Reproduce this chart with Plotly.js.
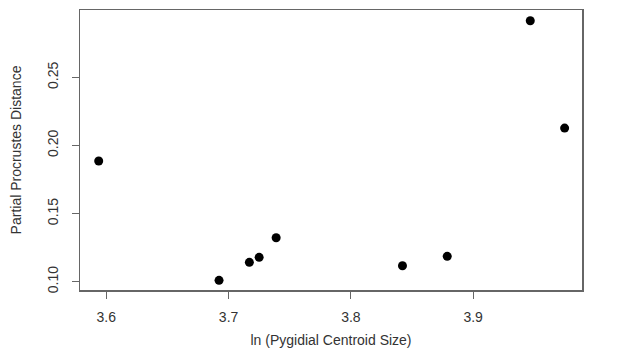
<!DOCTYPE html>
<html>
<head>
<meta charset="utf-8">
<script src="https://cdn.plot.ly/plotly-3.0.1.min.js"></script>
<style>html,body{margin:0;padding:0;background:#fff;}#chart{width:634px;height:364px;}</style>
</head>
<body>
<div id="chart"></div>
<script>
const lnCentroidSize = [3.5938, 3.6922, 3.7170, 3.7250, 3.7389, 3.8422, 3.8788, 3.9467, 3.9748];
const procrustesDist = [0.1886, 0.1010, 0.1142, 0.1179, 0.1323, 0.1117, 0.1186, 0.2916, 0.2128];
const xTicks = [3.6, 3.7, 3.8, 3.9];
const yTicks = [0.10, 0.15, 0.20, 0.25];
const xTickText = ['3.6', '3.7', '3.8', '3.9'];
const yTickText = ['0.10', '0.15', '0.20', '0.25'];

const font = {family: 'Liberation Sans, Arial, sans-serif', size: 14, color: '#333'};
const trace = {
  x: lnCentroidSize, y: procrustesDist, type: 'scatter', mode: 'markers',
  marker: {color: '#000', size: 9}, hoverinfo: 'x+y'
};
const layout = {
  width: 634, height: 364,
  margin: {l: 80, r: 52, t: 10, b: 74},
  paper_bgcolor: '#fff', plot_bgcolor: '#fff',
  font: font,
  showlegend: false,
  xaxis: {
    range: [3.5785, 3.989], tickvals: xTicks, ticktext: xTickText,
    showgrid: false, zeroline: false, showline: true, mirror: true,
    linecolor: '#666', linewidth: 1.5, ticks: 'outside', ticklen: 7, tickcolor: '#666', tickwidth: 1,
    ticklabelstandoff: 7,
    title: {text: 'ln (Pygidial Centroid Size)', font: font, standoff: 11},
    automargin: false
  },
  yaxis: {
    range: [0.0939, 0.2995], tickvals: yTicks, ticktext: yTickText, tickangle: -90,
    showgrid: false, zeroline: false, showline: true, mirror: true,
    linecolor: '#666', linewidth: 1.5, ticks: 'outside', ticklen: 7, tickcolor: '#666', tickwidth: 1,
    ticklabelstandoff: 8,
    title: {text: 'Partial Procrustes Distance', font: font, standoff: 20},
    automargin: false
  }
};
Plotly.newPlot('chart', [trace], layout, {displayModeBar: false, staticPlot: true});
</script>
</body>
</html>
